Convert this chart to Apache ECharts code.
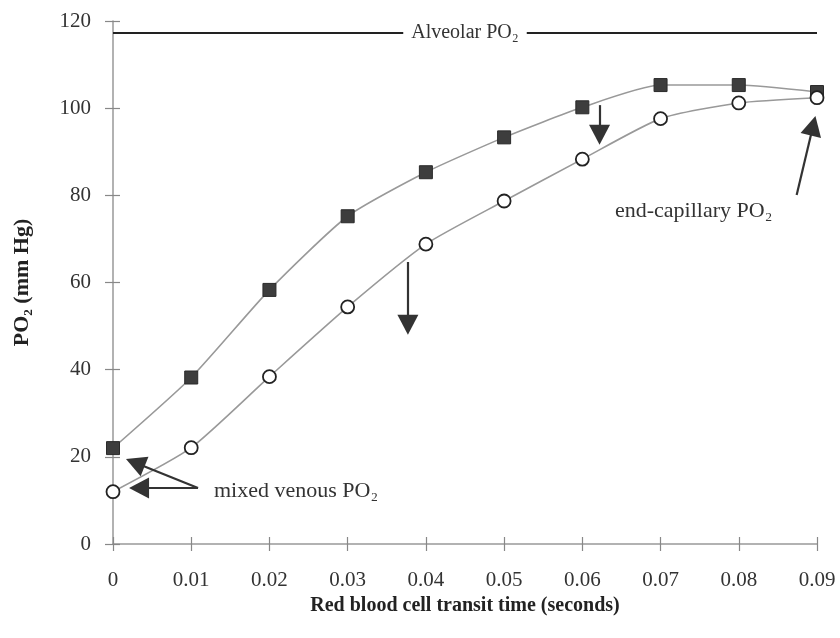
<!DOCTYPE html>
<html>
<head>
<meta charset="utf-8">
<script src="https://cdn.jsdelivr.net/npm/echarts@6/dist/echarts.min.js"></script>
<style>
html,body{margin:0;padding:0;background:#fff;}
#chart{width:840px;height:638px;}
</style>
</head>
<body>
<div id="chart"></div>
<script>
// ---- data ----
var transitTime = [0, 0.01, 0.02, 0.03, 0.04, 0.05, 0.06, 0.07, 0.08, 0.09];
var normalPO2   = [22, 38.2, 58.3, 75.2, 85.3, 93.3, 100.2, 105.3, 105.3, 103.7];
var reducedPO2  = [12, 22.1, 38.4, 54.4, 68.8, 78.7, 88.3, 97.6, 101.2, 102.4];
var alveolarPO2 = 117.4;
var xTickLabels = ['0','0.01','0.02','0.03','0.04','0.05','0.06','0.07','0.08','0.09'];
var yTickLabels = ['0','20','40','60','80','100','120'];
// annotation arrows in data units: [fromX, fromY, tipX, tipY]
var arrows = [
  [0.0622, 100.7, 0.0622, 91.6],
  [0.0377, 64.7, 0.0377, 48.0],
  [0.01087, 12.85, 0.00166, 19.5],
  [0.01087, 12.85, 0.00205, 12.85],
  [0.0874, 80.1, 0.0898, 98.2]
];
var headSize = [21, 20];

var serif = '"Liberation Serif","Times New Roman",serif';
var chart = echarts.init(document.getElementById('chart'), null, {renderer:'canvas'});

function pair(a){ return [{coord:[a[0],a[1]]},{coord:[a[2],a[3]]}]; }

var option = {
  animation:false,
  backgroundColor:'#fff',
  grid:{left:113,right:23,top:21,bottom:94,containLabel:false},
  xAxis:[{
    type:'value', min:0, max:0.09, interval:0.01,
    name:'Red blood cell transit time (seconds)', nameLocation:'middle', nameGap:52,
    nameTextStyle:{fontFamily:serif,fontWeight:'bold',fontSize:20,color:'#222'},
    axisLine:{lineStyle:{color:'#999',width:1.5}},
    axisTick:{show:true,length:7,lineStyle:{color:'#888',width:1.2}},
    axisLabel:{margin:26,fontFamily:serif,fontSize:21,color:'#333',
      formatter:function(v){var i=Math.round(v*100);return xTickLabels[i];}},
    splitLine:{show:false}
  },{
    type:'value', min:0, max:0.09, interval:0.01, position:'bottom',
    axisLine:{show:false},
    axisTick:{show:true,inside:true,length:7,lineStyle:{color:'#888',width:1.2}},
    axisLabel:{show:false}, splitLine:{show:false}
  }],
  yAxis:[{
    type:'value', min:0, max:120, interval:20,
    name:'PO₂ (mm Hg)', nameLocation:'middle', nameGap:80, nameRotate:90,
    nameTextStyle:{fontFamily:serif,fontWeight:'bold',fontSize:22,color:'#222'},
    axisLine:{show:true,lineStyle:{color:'#999',width:1.5}},
    axisTick:{show:true,length:8,lineStyle:{color:'#888',width:1.2}},
    axisLabel:{margin:22,fontFamily:serif,fontSize:21,color:'#333',
      formatter:function(v){return yTickLabels[Math.round(v/20)];}},
    splitLine:{show:false}
  },{
    type:'value', min:0, max:120, interval:20, position:'left',
    axisLine:{show:false},
    axisTick:{show:true,inside:true,length:7,lineStyle:{color:'#888',width:1.2}},
    axisLabel:{show:false}, splitLine:{show:false}
  }],
  series:[
    {
      name:'normal', type:'line', smooth:0.2,
      data: transitTime.map(function(t,i){return [t,normalPO2[i]];}),
      symbol:'rect', symbolSize:13,
      itemStyle:{color:'#3d3d3d',borderColor:'#2a2a2a',borderWidth:1},
      lineStyle:{color:'#999',width:1.6},
      z:3
    },
    {
      name:'reduced', type:'line', smooth:0.2,
      data: transitTime.map(function(t,i){return [t,reducedPO2[i]];}),
      symbol:'circle', symbolSize:13, showAllSymbol:true,
      itemStyle:{color:'#fff',borderColor:'#222',borderWidth:1.8},
      lineStyle:{color:'#999',width:1.6},
      z:4
    },
    {
      name:'alveolar', type:'line', data:[], silent:true,
      markLine:{
        silent:true, animation:false,
        symbol:['none','none'],
        lineStyle:{color:'#222',width:2,type:'solid'},
        label:{show:true,position:'middle',distance:0,formatter:'Alveolar PO₂',
          fontFamily:serif,fontSize:20,color:'#333',backgroundColor:'#fff',padding:[2,8],
          verticalAlign:'middle'},
        data:[[{coord:[0,alveolarPO2]},{coord:[0.09,alveolarPO2]}]]
      }
    },
    {
      name:'arrows', type:'line', data:[], silent:true,
      markLine:{
        silent:true, animation:false,
        symbol:['none','triangle'], symbolSize:headSize,
        lineStyle:{color:'#333',width:2.2,type:'solid'},
        itemStyle:{color:'#333'},
        label:{show:false},
        data: arrows.map(pair)
      }
    }
  ],
  graphic:[
    {type:'text', left:214, top:480, style:{text:'mixed venous PO₂', font:'22px '+serif, fill:'#333'}},
    {type:'text', left:615, top:200, style:{text:'end-capillary PO₂', font:'22px '+serif, fill:'#333'}}
  ]
};
chart.setOption(option);

// pull each arrow end back by half the head length so the triangle tip lands on the target
var fixed = arrows.map(function(a){
  var p0 = chart.convertToPixel({gridIndex:0}, [a[0],a[1]]);
  var p1 = chart.convertToPixel({gridIndex:0}, [a[2],a[3]]);
  var dx = p1[0]-p0[0], dy = p1[1]-p0[1];
  var len = Math.sqrt(dx*dx+dy*dy);
  var e = [p1[0]-dx/len*headSize[1]/2, p1[1]-dy/len*headSize[1]/2];
  var d = chart.convertFromPixel({gridIndex:0}, e);
  return [{coord:[a[0],a[1]]},{coord:d}];
});
chart.setOption({series:[{},{},{},{markLine:{data:fixed}}]});
</script>
</body>
</html>
